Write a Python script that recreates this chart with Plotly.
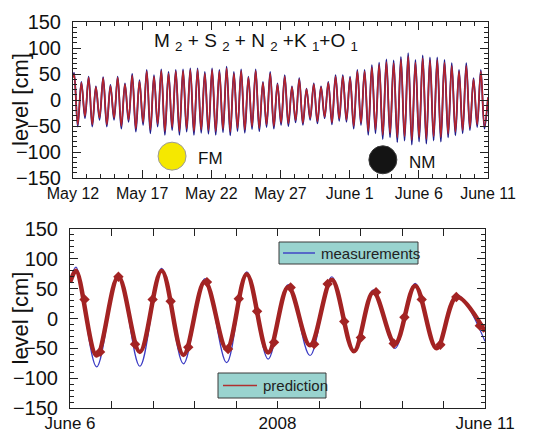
import numpy as np
import plotly.graph_objects as go

# ---------------- Top panel data (days since May 12, 2008) ----------------
top_tick_days = [0, 5, 10, 15, 20, 25, 30]
top_tick_text = ["May 12", "May 17", "May 22", "May 27", "June 1", "June 6", "June 11"]

# high-water levels [cm], measured
top_high_meas = [52, 35, 45, 26, 44, 29, 45, 32, 50, 38, 58, 48, 59, 54, 58, 59, 61, 61,
                 54,
                 61, 58, 64, 54, 59, 45, 59, 35, 54, 32, 48, 26, 42, 22, 32, 26, 35, 48,
                 48, 45, 58, 58, 67, 72, 78, 76, 83, 90, 77, 86, 82, 82, 77, 71, 58, 71, 42, 58]
# low-water levels [cm], measured
top_low_meas = [-51, -35, -51, -38, -51, -38, -55, -42, -61, -48, -64, -51, -67, -58, -67, -61, -67, -63,
                -65, -67, -62, -68, -60, -63, -56, -60, -52, -55, -48, -50, -43, -48, -38, -45, -35, -47, -40,
                -42, -55, -48, -67, -64, -75, -72, -81, -78, -86, -80, -84, -78, -80, -72, -68, -64, -58, -52, -55]
# predicted (M2+S2+N2+K1+O1)
top_high_pred = [50, 33, 43, 25, 42, 27, 43, 30, 47, 36, 55, 45, 56, 51, 55, 56, 58, 58,
                 51,
                 58, 55, 61, 51, 56, 43, 56, 33, 51, 30, 45, 25, 40, 21, 30, 25, 33, 45,
                 45, 42, 55, 55, 63, 68, 73, 71, 78, 84, 72, 80, 77, 77, 72, 66, 55, 66, 40, 55]
top_low_pred = [-47, -31, -47, -34, -47, -34, -50, -38, -55, -43, -57, -46, -60, -52, -60, -55, -60, -57,
                -58, -60, -56, -61, -54, -57, -51, -54, -47, -50, -44, -45, -39, -44, -35, -41, -32, -43, -36,
                -38, -50, -44, -60, -57, -67, -64, -72, -70, -77, -72, -75, -70, -72, -65, -61, -58, -53, -47, -50]
top_first_high_day = 0.08
top_half_cycle_days = 0.2625
top_start = (0.0, 45)
top_end = (30.0, 5)

moon_events = [("FM", 7.16, -108, "#f5e800", "#9a9a9a"), ("NM", 22.4, -115, "#141414", "#3a3a3a")]

# ---------------- Bottom panel data (hours since June 6, 2008) ----------------
bot_tick_hours = [0, 60, 120]
bot_tick_text = ["June 6", "2008", "June 11"]
bot_minor_step_hours = 12

bot_t = [0, 1.74, 7.7, 13.97, 20.2, 26.5, 32.8, 39.0, 45.3, 51.1, 57.3, 63.1,
         69.4, 75.7, 82.1, 87.7, 94.0, 99.8, 106.0, 111.8, 120]
bot_meas = [62, 86, -81, 73, -80, 84, -76, 67, -74, 78, -68, 57,
            -62, 70, -57, 48, -50, 59, -51, 40, -38]
bot_pred = [60, 80, -62, 70, -56, 80, -61, 62, -51, 74, -57, 53,
            -45, 65, -55, 44, -42, 55, -50, 36, -22]
bot_mark_t = [4.2, 8.7, 14.0, 18.8, 23.9, 29.1, 34.2, 39.6, 45.7, 48.8, 54.1, 59.0,
              63.8, 70.6, 74.5, 79.3, 84.1, 88.5, 93.6, 96.7, 101.7, 107.1, 111.7, 118.5]
bot_mark_v = [32, -56, 70, -43, 32, 29, -48, 61, -51, 33, 12, -40,
              52, -43, 58, -5, -32, 44, -42, 2, 32, -44, 36, -12]

legend_labels = ["measurements", "prediction"]

# ---------------- build top series ----------------
n = len(top_high_meas)
t_high = top_first_high_day + 2 * top_half_cycle_days * np.arange(n)
t_low = t_high + top_half_cycle_days
tx = [top_start[0]]
ym = [top_start[1]]
yp = [top_start[1] - 2]
for i in range(n):
    tx += [t_high[i], t_low[i]]
    ym += [top_high_meas[i], top_low_meas[i]]
    yp += [top_high_pred[i], top_low_pred[i]]
tx.append(top_end[0]); ym.append(top_end[1]); yp.append(top_end[1])

FONT = "Liberation Sans, Arial, sans-serif"
BLUE_T = "#1c1c8c"
RED_T = "#b4232b"
BLUE_B = "#3b3bc4"
RED_B = "#a32323"
BOX = "#99d3cf"

fig = go.Figure()
fig.add_trace(go.Scatter(x=tx, y=ym, mode="lines", line=dict(color=BLUE_T, width=1.8, shape="spline"),
                         showlegend=False, xaxis="x", yaxis="y", hoverinfo="skip"))
fig.add_trace(go.Scatter(x=tx, y=yp, mode="lines", line=dict(color=RED_T, width=1.6, shape="spline"),
                         showlegend=False, xaxis="x", yaxis="y", hoverinfo="skip"))

# bottom
fig.add_trace(go.Scatter(x=bot_t, y=bot_meas, mode="lines", name=legend_labels[0],
                         line=dict(color=BLUE_B, width=1.2, shape="spline"),
                         xaxis="x2", yaxis="y2", showlegend=False))
fig.add_trace(go.Scatter(x=bot_t, y=bot_pred, mode="lines", name=legend_labels[1],
                         line=dict(color=RED_B, width=4.5, shape="spline"),
                         xaxis="x2", yaxis="y2", showlegend=False))
fig.add_trace(go.Scatter(x=bot_mark_t, y=bot_mark_v, mode="markers", name=legend_labels[1],
                         marker=dict(color=RED_B, size=8, symbol="diamond"),
                         xaxis="x2", yaxis="y2", showlegend=False))

W, H = 535, 429
axis_common = dict(showline=True, linecolor="#222", linewidth=1, mirror="allticks",
                   ticks="inside", tickcolor="#222", showgrid=False, zeroline=False,
                   automargin=False)

fig.update_layout(
    width=W, height=H,
    margin=dict(l=0, r=0, t=0, b=0),
    paper_bgcolor="white", plot_bgcolor="white",
    font=dict(family=FONT, color="#111"),
    showlegend=False,
    xaxis=dict(domain=[73 / W, 488 / W], range=[0, 30], anchor="y",
               tickmode="array", tickvals=top_tick_days, ticktext=top_tick_text,
               ticklen=8, tickfont=dict(size=16), ticklabelstandoff=1,
               minor=dict(tickmode="linear", tick0=0, dtick=1, ticklen=4, ticks="inside", tickcolor="#222"),
               **axis_common),
    yaxis=dict(domain=[1 - 178 / H, 1 - 22 / H], range=[-150, 150], anchor="x",
               tickmode="linear", tick0=-150, dtick=50, ticklen=8, tickfont=dict(size=20),
               ticklabelstandoff=7,
               minor=dict(tickmode="linear", tick0=0, dtick=10, ticklen=4, ticks="inside", tickcolor="#222"),
               **axis_common),
    xaxis2=dict(domain=[70 / W, 485 / W], range=[0, 120], anchor="y2",
                tickmode="array", tickvals=bot_tick_hours, ticktext=bot_tick_text,
                ticklen=7, tickfont=dict(size=17), ticklabelstandoff=0,
                minor=dict(tickmode="linear", tick0=0, dtick=bot_minor_step_hours, ticklen=7,
                           ticks="inside", tickcolor="#222"),
                **axis_common),
    yaxis2=dict(domain=[1 - 408 / H, 1 - 229 / H], range=[-150, 150], anchor="x2",
                tickmode="linear", tick0=-150, dtick=50, ticklen=8, tickfont=dict(size=20),
                ticklabelstandoff=7,
                minor=dict(tickmode="linear", tick0=0, dtick=10, ticklen=4, ticks="inside", tickcolor="#222"),
                **axis_common),
)

# y-axis titles
for yc in [(22 + 178) / 2, (229 + 408) / 2]:
    fig.add_annotation(text="level [cm]", xref="paper", yref="paper", x=20 / W, y=1 - yc / H,
                       textangle=-90, showarrow=False, font=dict(size=22, color="#111"),
                       xanchor="center", yanchor="middle")

# constituents label
fig.add_annotation(text="M <sub>2</sub> + S <sub>2</sub> + N <sub>2</sub> +K <sub>1</sub>+O <sub>1</sub>",
                   xref="x", yref="y", x=13.2, y=112, showarrow=False,
                   font=dict(size=19, color="#111"), xanchor="center", yanchor="middle")

# moon phase symbols
for label, day, lev, fill, edge in moon_events:
    fig.add_shape(type="circle", xref="x", yref="y", xsizemode="pixel", ysizemode="pixel",
                  xanchor=day, yanchor=lev, x0=-14, x1=14, y0=-14, y1=14,
                  fillcolor=fill, line=dict(color=edge, width=1))
    fig.add_annotation(text=label, xref="x", yref="y", x=day + 2.8, y=lev - 5, showarrow=False,
                       font=dict(size=17, color="#111"), xanchor="center", yanchor="middle")

# legend boxes (positioned as in the original figure)
def px(xp): return xp / W
def py(yp_): return 1 - yp_ / H

legend_boxes = [  # (label, color, box x0, x1, y0, y1, line x0, x1)
    (legend_labels[0], BLUE_B, 279, 418, 242, 264, 283, 315),
    (legend_labels[1], "#b03030", 218, 326, 373, 398, 223, 257),
]
for label, col, bx0, bx1, by0, by1, lx0, lx1 in legend_boxes:
    yc = (by0 + by1) / 2
    fig.add_shape(type="rect", xref="paper", yref="paper", x0=px(bx0), x1=px(bx1), y0=py(by1), y1=py(by0),
                  fillcolor=BOX, line=dict(color="#3a3a3a", width=1), layer="above")
    fig.add_shape(type="line", xref="paper", yref="paper", x0=px(lx0), x1=px(lx1), y0=py(yc), y1=py(yc),
                  line=dict(color=col, width=1.4), layer="above")
    fig.add_annotation(text=label, xref="paper", yref="paper", x=px(lx1 + 4), y=py(yc),
                       xanchor="left", yanchor="middle", showarrow=False,
                       font=dict(size=15, color="#222"))

fig.write_html("out.html", config={"displayModeBar": False},
               post_script="document.body.style.margin='0px';")
